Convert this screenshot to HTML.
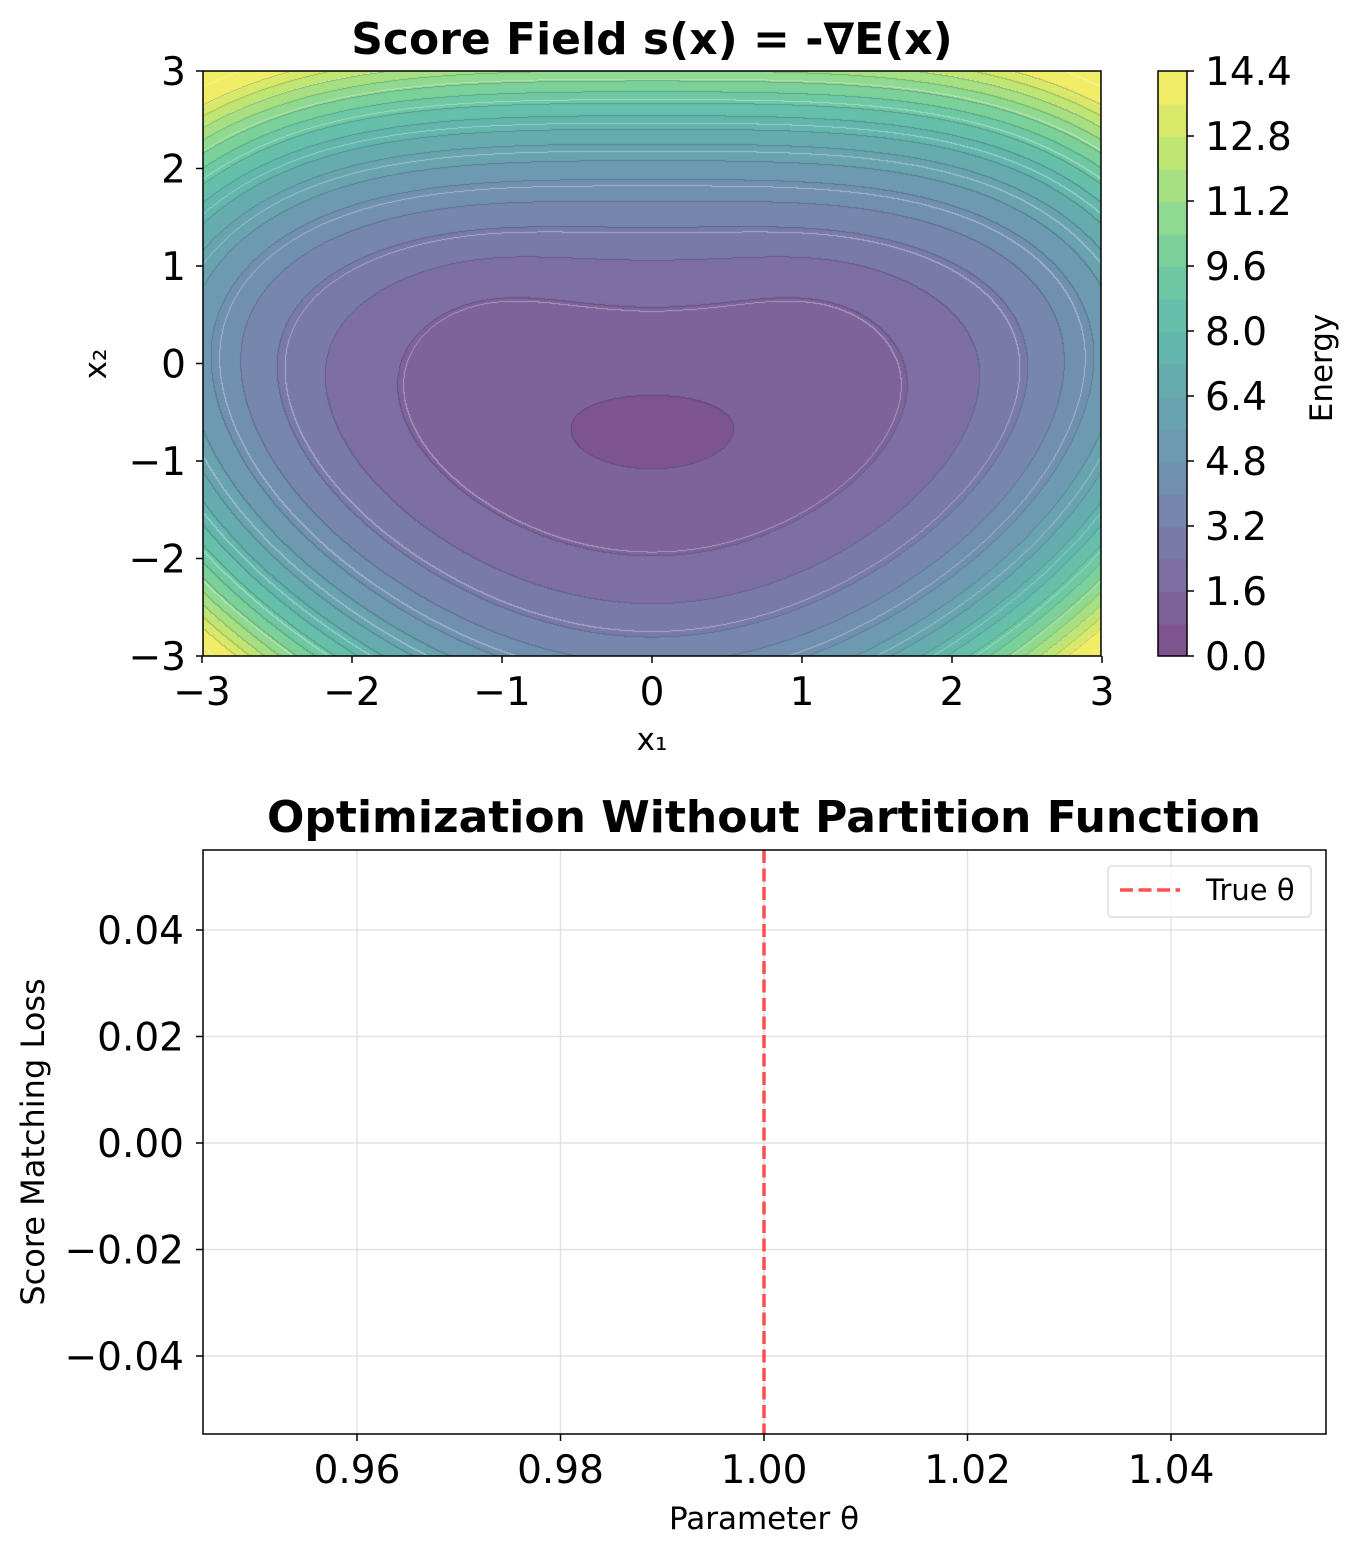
<!DOCTYPE html>
<html><head><meta charset="utf-8"><style>
body{margin:0;background:#fff;width:1357px;height:1557px;overflow:hidden;position:relative;font-family:"Liberation Sans","DejaVu Sans",sans-serif}
canvas{position:absolute}
svg{position:absolute;left:0;top:0}
</style></head><body>
<canvas id="c" width="898" height="585" style="left:203px;top:71px"></canvas>
<canvas id="cb" width="29" height="585" style="left:1158px;top:71px"></canvas>
<svg width="1357" height="1557" font-family="DejaVu Sans, Liberation Sans, sans-serif">
<g id="ax"></g>
<text x="652" y="54" font-size="44" font-weight="bold" text-anchor="middle">Score Field s(x) = -∇E(x)</text>
<text x="652" y="750" font-size="31" text-anchor="middle">x₁</text>
<text x="106" y="364" font-size="31" text-anchor="middle" transform="rotate(-90 106 364)">x₂</text>
<text x="1332" y="368" font-size="31" text-anchor="middle" transform="rotate(-90 1332 368)">Energy</text>
<rect x="203" y="71" width="898" height="585" fill="none" stroke="#000" stroke-width="1.5"/>
<rect x="1158" y="71" width="29" height="585" fill="none" stroke="#000" stroke-width="1.5"/>
<text x="764" y="832" font-size="44" font-weight="bold" text-anchor="middle">Optimization Without Partition Function</text>
<text x="764" y="1529" font-size="31" text-anchor="middle">Parameter θ</text>
<text x="44" y="1142" font-size="32" text-anchor="middle" transform="rotate(-90 44 1142)">Score Matching Loss</text>
<line x1="764" y1="850" x2="764" y2="1434" stroke="#ff3333" stroke-opacity="0.85" stroke-width="3.5" stroke-dasharray="13,5.5"/>
<rect x="203" y="850" width="1123" height="584" fill="none" stroke="#000" stroke-width="1.5"/>
<rect x="1108" y="866" width="203" height="51" rx="4" fill="#fff" fill-opacity="0.8" stroke="#ccc"/>
<line x1="1120" y1="890" x2="1180" y2="890" stroke="#ff3333" stroke-opacity="0.85" stroke-width="3.5" stroke-dasharray="13,5.5"/>
<text x="1206" y="900" font-size="29">True θ</text>
</svg>
<script>
function vir(t){var s=[[68,1,84],[72,40,120],[62,74,137],[49,104,142],[38,130,142],[31,158,137],[53,183,121],[110,206,88],[181,222,43],[253,231,37]];
t=Math.max(0,Math.min(1,t))*9;var i=Math.min(8,Math.floor(t)),f=t-i;return s[i].map(function(v,k){return v+(s[i+1][k]-v)*f;});}
function E(x,y){var u=x*x,d=y+0.7-0.1*u,ax=Math.abs(x);
return 0.85+0.428*d*d+0.0237*d*d*d*d+0.166*u+0.033*u*u+0.065*u*y*y*(1+0.25*Math.tanh(y))
-0.45*Math.exp(-u/0.2-(y+0.7)*(y+0.7)/0.1)
-0.25*Math.exp(-(ax-1.1)*(ax-1.1)/0.4-(y-0.6)*(y-0.6)/0.6);}
function col(band){var c=vir((band+0.5)/18);return c.map(function(v){return Math.round(255+(v-255)*0.7);});}
var cv=document.getElementById('c'),x=cv.getContext('2d'),W=898,H=585,im=x.createImageData(W,H),B=[],WL=[];
for(var j=0;j<H;j++)for(var i=0;i<W;i++){var a=-3+6*(i+0.5)/W,b=3-6*(j+0.5)/H;var e=E(a,b);var bd=Math.max(0,Math.min(17,Math.floor(e/0.8)));B[j*W+i]=bd;WL[j*W+i]=Math.floor((e-0.05)/1.5);}
for(var j=0;j<H;j++)for(var i=0;i<W;i++){var n=j*W+i,bd=B[n],c=col(bd),p=n*4;
var edge=(i>0&&B[n-1]!=bd)||(j>0&&B[n-W]!=bd);
var wedge=(i>0&&WL[n-1]!=WL[n])||(j>0&&WL[n-W]!=WL[n]);
if(edge){c=c.map(function(v){return v*0.82;});}
else if(wedge){c=c.map(function(v){return v+(255-v)*0.35;});}
im.data[p]=c[0];im.data[p+1]=c[1];im.data[p+2]=c[2];im.data[p+3]=255;}
x.putImageData(im,0,0);
var cb=document.getElementById('cb').getContext('2d');
for(var k=0;k<18;k++){var c=col(k);cb.fillStyle='rgb('+c.join(',')+')';cb.fillRect(0,585-(k+1)*585/18,29,585/18+1);}
var g='';
function L(x1,y1,x2,y2,s){g+='<line x1="'+x1+'" y1="'+y1+'" x2="'+x2+'" y2="'+y2+'" stroke="'+(s||'#000')+'" stroke-width="1.5"/>';}
function T(x,y,t,an){g+='<text x="'+x+'" y="'+y+'" font-size="39" text-anchor="'+an+'">'+t+'</text>';}
for(var v=-3;v<=3;v++){var px=652+150*v;L(px,656,px,663);T(px,705,(v<0?'−':'')+Math.abs(v),'middle');
var py=363.5-97.5*v;L(196,py,203,py);T(186,py+14,(v<0?'−':'')+Math.abs(v),'end');}
for(var k=0;k<=9;k++){var py=656-k*65;L(1187,py,1194,py);T(1205,py+14,(k*1.6).toFixed(1),'start');}
var xt=[0.96,0.98,1.00,1.02,1.04];xt.forEach(function(v){var px=764+(v-1)*10175;L(px,850,px,1434,'#e3e3e3');L(px,1434,px,1441);T(px,1483,v.toFixed(2),'middle');});
var yt=[0.04,0.02,0,-0.02,-0.04];yt.forEach(function(v){var py=1143-v*5325;L(203,py,1326,py,'#e3e3e3');L(196,py,203,py);T(184,py+14,(v<0?'−':'')+Math.abs(v).toFixed(2),'end');});
document.getElementById('ax').innerHTML=g;
</script>
</body></html>
